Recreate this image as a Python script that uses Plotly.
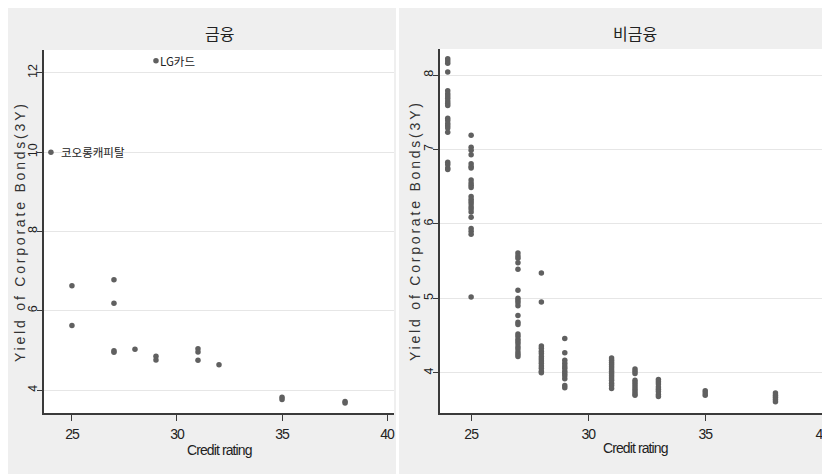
import plotly.graph_objects as go

# ---------------- data ----------------
# 금융 (financial)
fin_rating = [24, 29, 25, 25, 27, 27, 27, 27, 28, 29, 29, 31, 31, 31, 32, 35, 35, 38, 38]
fin_yield = [10.0, 12.31, 6.63, 5.63, 6.78, 6.19, 4.99, 4.95, 5.03, 4.85, 4.76,
             5.04, 4.96, 4.75, 4.64, 3.82, 3.76, 3.71, 3.67]
label_names = ["코오롱캐피탈", "LG카드"]
label_rating = [24, 29]
label_yield = [10.0, 12.31]

# 비금융 (non-financial)
nf_r24 = [8.22, 8.19, 8.16, 8.04, 7.79, 7.75, 7.72, 7.69, 7.65, 7.62, 7.59,
          7.42, 7.39, 7.35, 7.32, 7.29, 7.23, 6.83, 6.80, 6.75, 6.73]
nf_r25 = [7.19, 7.03, 6.99, 6.93, 6.81, 6.77, 6.75, 6.59, 6.55, 6.52, 6.49,
          6.37, 6.33, 6.30, 6.27, 6.23, 6.20, 6.16, 6.09, 5.94, 5.90, 5.86, 5.02]
nf_r27 = [5.61, 5.57, 5.54, 5.48, 5.39, 5.11, 5.00, 4.97, 4.94, 4.90, 4.77,
          4.68, 4.65, 4.52, 4.49, 4.45, 4.42, 4.39, 4.35, 4.32, 4.28, 4.25, 4.22]
nf_r28 = [5.34, 4.95, 4.36, 4.33, 4.29, 4.26, 4.22, 4.19, 4.16, 4.13, 4.09,
          4.06, 4.02, 4.00]
nf_r29 = [4.46, 4.27, 4.17, 4.13, 4.09, 4.06, 4.02, 3.99, 3.96, 3.92, 3.83, 3.80]
nf_r31 = [4.20, 4.17, 4.14, 4.11, 4.08, 4.05, 4.02, 3.99, 3.96, 3.93, 3.90,
          3.86, 3.83, 3.79]
nf_r32 = [4.05, 4.02, 3.99, 3.90, 3.87, 3.84, 3.81, 3.78, 3.75, 3.72, 3.70]
nf_r33 = [3.91, 3.88, 3.85, 3.81, 3.78, 3.75, 3.71, 3.68]
nf_r35 = [3.76, 3.73, 3.70]
nf_r38 = [3.73, 3.70, 3.67, 3.64, 3.61]
nf_groups = {24: nf_r24, 25: nf_r25, 27: nf_r27, 28: nf_r28, 29: nf_r29,
             31: nf_r31, 32: nf_r32, 33: nf_r33, 35: nf_r35, 38: nf_r38}

panel_titles = ["금융", "비금융"]
x_title = "Credit rating"
y_title = "Yield of Corporate Bonds(3Y)"
x_ticks = [25, 30, 35, 40]
y_ticks_fin = [4, 6, 8, 10, 12]
y_ticks_nf = [4, 5, 6, 7, 8]

nf_rating = []
nf_yield = []
for r, vals in nf_groups.items():
    nf_rating += [r] * len(vals)
    nf_yield += vals

# ---------------- figure ----------------
OFF = 8                      # browser body margin
W, H = 830, 474
MARK = "#606060"
GRID = "#e6e6e6"
AX = "#3a3a3a"
BG = "#efefef"
SANS = "Liberation Sans"
CJK = "Noto Sans CJK KR"


def px(v):
    return (v - OFF) / W


def py(v):
    return 1 - (v - OFF) / H


def narrow(s, sp=-1):
    return '<span style="letter-spacing:%spx">%s</span>' % (sp, s)


fig = go.Figure()
fig.add_trace(go.Scatter(x=fin_rating, y=fin_yield, mode="markers",
                         marker=dict(color=MARK, size=5.5), xaxis="x", yaxis="y",
                         showlegend=False, cliponaxis=False))
fig.add_trace(go.Scatter(x=nf_rating, y=nf_yield, mode="markers",
                         marker=dict(color=MARK, size=5.5), xaxis="x2", yaxis="y2",
                         showlegend=False, cliponaxis=False))

common_x = dict(range=[23.67, 40.33], tickvals=x_ticks,
                ticktext=[narrow(str(t)) for t in x_ticks], showgrid=False,
                zeroline=False, showline=True, linecolor=AX, linewidth=1.5,
                ticks="outside", ticklen=6, tickcolor=AX, ticklabelstandoff=1,
                tickfont=dict(family=SANS, size=14, color="#222"))

common_y = dict(showgrid=True, gridcolor=GRID, gridwidth=1, zeroline=False,
                showline=True, linecolor=AX, linewidth=1.5,
                ticks="outside", ticklen=5, tickcolor=AX, tickangle=-90,
                ticklabelstandoff=-5,
                tickfont=dict(family=SANS, size=12.5, color="#222"))

fig.update_layout(
    width=W, height=H, margin=dict(l=0, r=0, t=0, b=0),
    paper_bgcolor="white", plot_bgcolor="white",
    xaxis=dict(domain=[px(44), px(394)], anchor="y", **common_x),
    yaxis=dict(domain=[py(413), py(50)], anchor="x", range=[3.42, 12.58],
               tickvals=y_ticks_fin, **common_y),
    xaxis2=dict(domain=[px(440), px(830)], anchor="y2", **common_x),
    yaxis2=dict(domain=[py(413), py(49)], anchor="x2", range=[3.46, 8.35],
                tickvals=y_ticks_nf, **common_y),
)

shapes = [
    dict(type="rect", xref="paper", yref="paper", x0=0, x1=px(396),
         y0=0, y1=1, fillcolor=BG, line=dict(width=0), layer="below"),
    dict(type="rect", xref="paper", yref="paper", x0=px(399), x1=1,
         y0=0, y1=1, fillcolor=BG, line=dict(width=0), layer="below"),
    dict(type="rect", xref="x domain", yref="y domain", x0=0, x1=1, y0=0, y1=1,
         fillcolor="white", line=dict(width=0), layer="below"),
    dict(type="rect", xref="x2 domain", yref="y2 domain", x0=0, x1=1, y0=0, y1=1,
         fillcolor="white", line=dict(width=0), layer="below"),
]
fig.update_layout(shapes=shapes)

ann = []
for t, cx in zip(panel_titles, [219, 635]):
    ann.append(dict(text=t, x=px(cx), y=py(33), xref="paper", yref="paper",
                    showarrow=False, font=dict(family=CJK, size=16, color="#222"),
                    xanchor="center", yanchor="middle"))
for cx, cy in [(219, 450), (635, 448)]:
    ann.append(dict(text=narrow(x_title, -0.9), x=px(cx), y=py(cy), xref="paper",
                    yref="paper", showarrow=False,
                    font=dict(family=SANS, size=14, color="#222"),
                    xanchor="center", yanchor="middle"))
spaced = '<span style="letter-spacing:2.8px">' + y_title + '</span>'
for cx, cy in [(20, 232), (415, 231)]:
    ann.append(dict(text=spaced, x=px(cx), y=py(cy), xref="paper", yref="paper",
                    showarrow=False, textangle=-90,
                    font=dict(family=SANS, size=14, color="#333"),
                    xanchor="center", yanchor="middle"))
shifts = [8, 2]
for name, xr, yv, sh in zip(label_names, label_rating, label_yield, shifts):
    ann.append(dict(text=name, x=xr, y=yv, xref="x", yref="y", showarrow=False,
                    xanchor="left", yanchor="middle", xshift=sh,
                    font=dict(family=CJK, size=11.5, color="#222")))
fig.update_layout(annotations=ann)

fig.write_html("out.html")
